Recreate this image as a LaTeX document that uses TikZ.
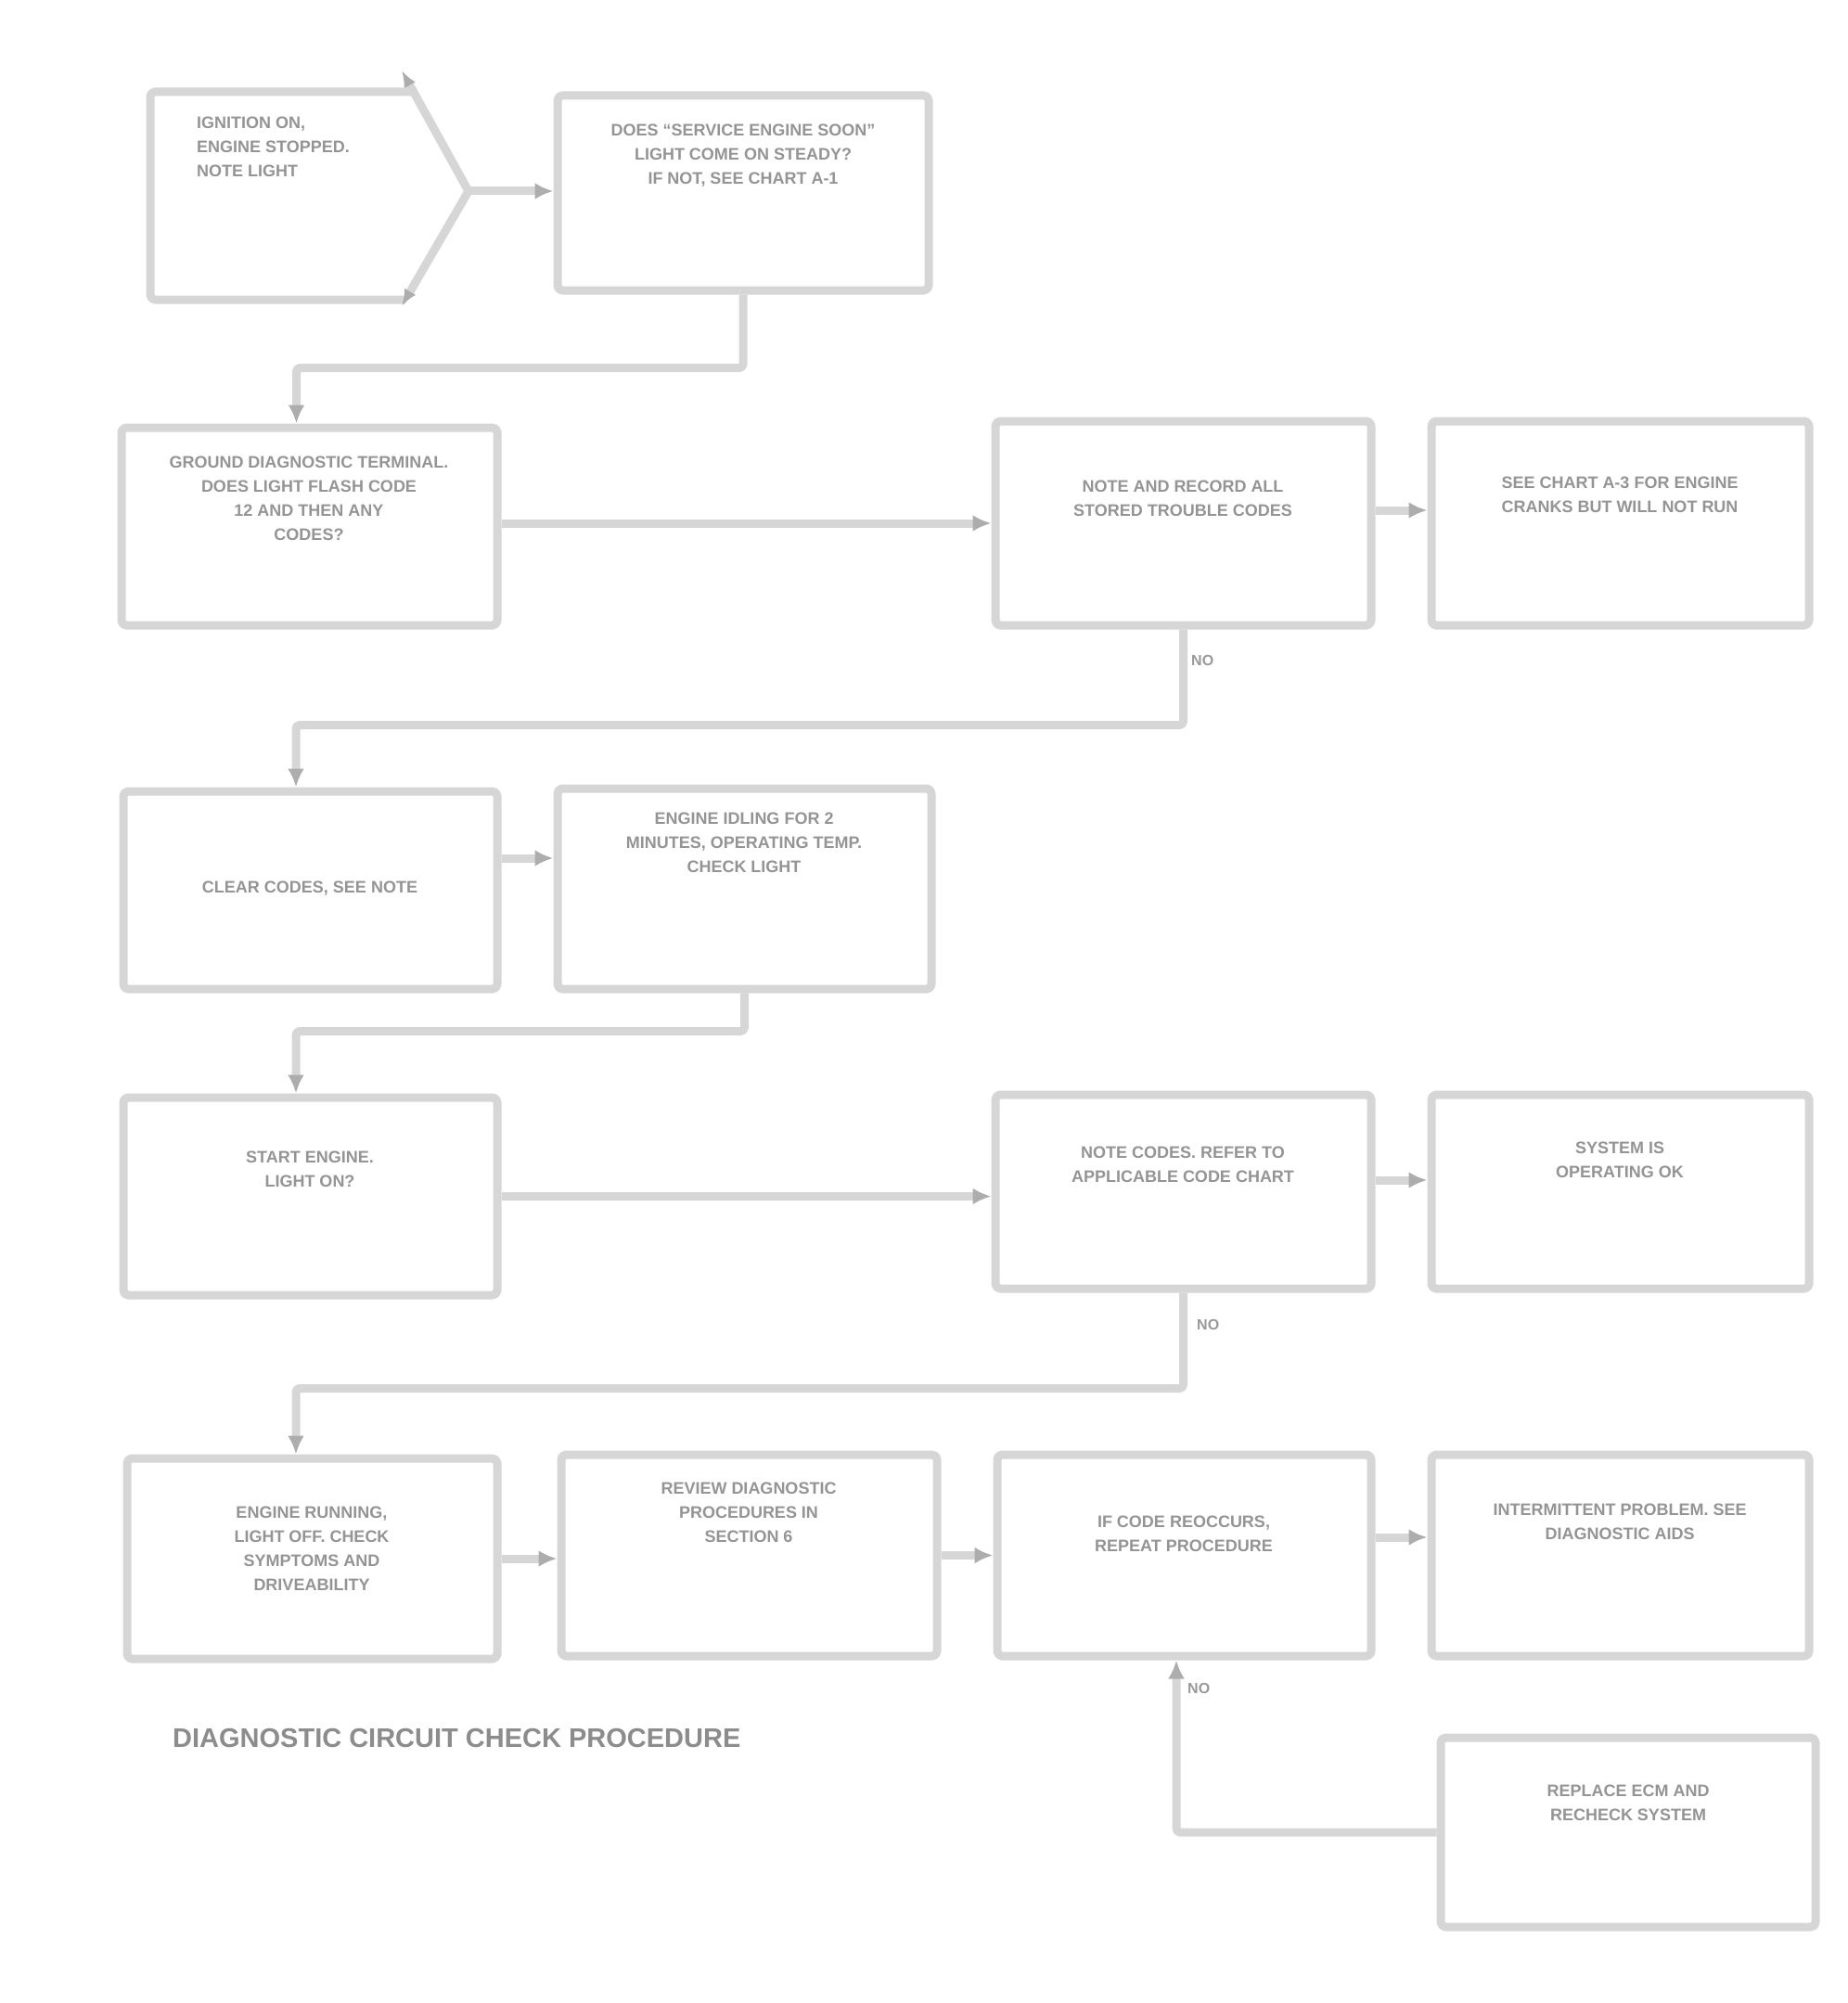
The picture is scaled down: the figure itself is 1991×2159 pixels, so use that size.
\documentclass[tikz,border=0pt]{standalone}
\usepackage{fontspec}
\setmainfont{Liberation Sans}
\usetikzlibrary{arrows.meta}
\begin{document}
\begin{tikzpicture}[x=1pt,y=-1pt,
  line/.style={draw=black!16,line width=9pt,line join=round},
  box/.style={line,rounded corners=5pt,rectangle,inner sep=0pt},
  arr/.style={line,-{Latex[length=20pt,width=18pt,fill=black!32,color=black!32]}},
  txt/.style={text=black!42,font=\bfseries\fontsize{18}{26}\selectfont,align=center,inner sep=0pt},
  lbl/.style={text=black!40,font=\bfseries\fontsize{16}{18}\selectfont,inner sep=0pt,anchor=west}]
\useasboundingbox (0,0) rectangle (1991,2159);
\fill[white] (0,0) rectangle (1991,2159);
% start box with chevron
\coordinate (Atop) at (433,76);
\coordinate (Atip) at (505,206);
\coordinate (Abot) at (433,330);
\draw[line,rounded corners=5pt] (446,99) -- (162,99) -- (162,323) -- (437,323);
\draw[line,{Latex[length=18pt,width=14pt,fill=black!32,color=black!32]}-{Latex[length=18pt,width=14pt,fill=black!32,color=black!32]}] (Atop) -- (Atip) -- (Abot);
\node[txt,align=left,anchor=north west] (Atx) at (212,126) {IGNITION ON,\\ENGINE STOPPED.\\NOTE LIGHT};
% boxes
\node[box,minimum width=400pt,minimum height=210pt] (B) at (801,208) {};
\node[box,minimum width=405pt,minimum height=213pt] (C) at (333.5,567.5) {};
\node[box,minimum width=405pt,minimum height=220pt] (D) at (1275.5,564) {};
\node[box,minimum width=407pt,minimum height=220pt] (E) at (1746.5,564) {};
\node[box,minimum width=403pt,minimum height=213pt] (F) at (334.5,959.5) {};
\node[box,minimum width=403pt,minimum height=216pt] (G) at (802.5,958) {};
\node[box,minimum width=403pt,minimum height=213pt] (H) at (334.5,1289.5) {};
\node[box,minimum width=405pt,minimum height=209pt] (I) at (1275.5,1284.5) {};
\node[box,minimum width=407pt,minimum height=209pt] (J) at (1746.5,1284.5) {};
\node[box,minimum width=399pt,minimum height=216pt] (K) at (336.5,1680) {};
\node[box,minimum width=405pt,minimum height=217pt] (L) at (807.5,1676.5) {};
\node[box,minimum width=403pt,minimum height=217pt] (M) at (1276.5,1676.5) {};
\node[box,minimum width=407pt,minimum height=217pt] (N) at (1746.5,1676.5) {};
\node[box,minimum width=404pt,minimum height=204pt] (O) at (1755,1975) {};
% texts
\node[txt,anchor=north] (Btx) at (801,134) {DOES ``SERVICE ENGINE SOON''\\LIGHT COME ON STEADY?\\IF NOT, SEE CHART A-1};
\node[txt,anchor=north] (Ctx) at (333,492) {GROUND DIAGNOSTIC TERMINAL.\\DOES LIGHT FLASH CODE\\12 AND THEN ANY\\CODES?};
\node[txt,anchor=north] (Dtx) at (1275,518) {NOTE AND RECORD ALL\\STORED TROUBLE CODES};
\node[txt,anchor=north] (Etx) at (1746,514) {SEE CHART A-3 FOR ENGINE\\CRANKS BUT WILL NOT RUN};
\node[txt] (Ftx) at (334,958) {CLEAR CODES, SEE NOTE};
\node[txt,anchor=north] (Gtx) at (802,876) {ENGINE IDLING FOR 2\\MINUTES, OPERATING TEMP.\\CHECK LIGHT};
\node[txt,anchor=north] (Htx) at (334,1241) {START ENGINE.\\LIGHT ON?};
\node[txt,anchor=north] (Itx) at (1275,1236) {NOTE CODES. REFER TO\\APPLICABLE CODE CHART};
\node[txt,anchor=north] (Jtx) at (1746,1231) {SYSTEM IS\\OPERATING OK};
\node[txt,anchor=north] (Ktx) at (336,1624) {ENGINE RUNNING,\\LIGHT OFF. CHECK\\SYMPTOMS AND\\DRIVEABILITY};
\node[txt,anchor=north] (Ltx) at (807,1598) {REVIEW DIAGNOSTIC\\PROCEDURES IN\\SECTION 6};
\node[txt,anchor=north] (Mtx) at (1276,1634) {IF CODE REOCCURS,\\REPEAT PROCEDURE};
\node[txt,anchor=north] (Ntx) at (1746,1621) {INTERMITTENT PROBLEM. SEE\\DIAGNOSTIC AIDS};
\node[txt,anchor=north] (Otx) at (1755,1924) {REPLACE ECM AND\\RECHECK SYSTEM};
% connectors
\draw[arr] (Atip) -- (Atip -| B.west);
\draw[arr,rounded corners=4pt] (B.south) -- ++(0,79) -| ([xshift=-14pt]C.north);
\draw[arr] (C.east |- D.west) -- (D.west);
\draw[arr] ([yshift=14pt]D.east) -- ([yshift=14pt]D.east -| E.west);
\draw[arr,rounded corners=4pt] (D.south) -- ++(0,103) -| ([xshift=-15.5pt]F.north);
\draw[arr] ([yshift=34.5pt]F.east) -- ([yshift=34.5pt]F.east -| G.west);
\draw[arr,rounded corners=4pt] (G.south) -- ++(0,41) -| ([xshift=-15.5pt]H.north);
\draw[arr] (H.east) -- (H.east -| I.west);
\draw[arr] ([yshift=12.5pt]I.east) -- ([yshift=12.5pt]I.east -| J.west);
\draw[arr,rounded corners=4pt] (I.south) -- ++(0,103) -| ([xshift=-17.5pt]K.north);
\draw[arr] (K.east) -- (K.east -| L.west);
\draw[arr] (L.east) -- (L.east -| M.west);
\draw[arr] ([yshift=19.5pt]M.east) -- ([yshift=19.5pt]M.east -| N.west);
\draw[arr,rounded corners=4pt] (O.west) -| ([xshift=-8.5pt]M.south);
% branch labels
\node[lbl] (l1) at (1284,712) {NO};
\node[lbl] (l2) at (1290,1428) {NO};
\node[lbl] (l3) at (1280,1820) {NO};
% caption
\node[text=black!45,font=\bfseries\fontsize{29}{32}\selectfont,anchor=west,inner sep=0pt] (cap) at (186,1873) {DIAGNOSTIC CIRCUIT CHECK PROCEDURE};
\end{tikzpicture}
\end{document}
